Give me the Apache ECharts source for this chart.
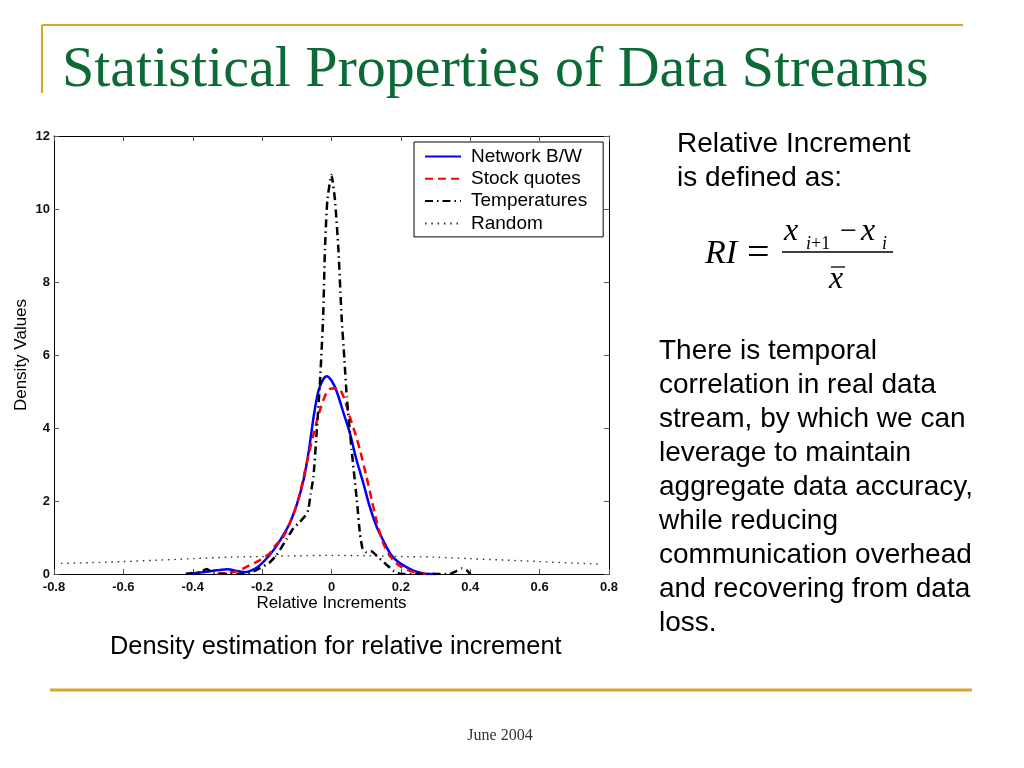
<!DOCTYPE html>
<html>
<head>
<meta charset="utf-8">
<script src="https://cdn.jsdelivr.net/npm/echarts/dist/echarts.min.js"></script>
<style>
html,body{margin:0;padding:0;background:#fff;}
#c{width:1024px;height:768px;}
</style>
</head>
<body>
<div id="c"></div>
<script>
// ---- data ----
const seriesNames = ['Network B/W', 'Stock quotes', 'Temperatures', 'Random'];
const xTicks = [-0.8, -0.6, -0.4, -0.2, 0, 0.2, 0.4, 0.6, 0.8];
const yTicks = [0, 2, 4, 6, 8, 10, 12];

const networkBW = [
  [-0.42,0.0],[-0.37,0.05],[-0.33,0.10],[-0.30,0.13],[-0.27,0.08],[-0.25,0.05],
  [-0.22,0.15],[-0.20,0.30],[-0.18,0.50],[-0.16,0.75],[-0.14,1.05],[-0.12,1.40],
  [-0.10,1.90],[-0.08,2.60],[-0.065,3.40],[-0.05,4.40],[-0.035,5.10],[-0.014,5.42],
  [0.0,5.30],[0.015,5.00],[0.035,4.40],[0.053,3.86],[0.07,3.20],[0.092,2.48],
  [0.11,1.85],[0.13,1.30],[0.15,0.90],[0.17,0.55],[0.19,0.35],[0.217,0.18],
  [0.24,0.08],[0.27,0.01],[0.30,0.0]
];
const stockQuotes = [
  [-0.33,0.0],[-0.30,0.03],[-0.27,0.08],[-0.24,0.22],[-0.21,0.36],[-0.18,0.55],
  [-0.16,0.80],[-0.14,1.00],[-0.12,1.40],[-0.096,2.03],[-0.07,3.10],[-0.05,3.90],
  [-0.033,4.50],[-0.015,4.95],[0.0,5.08],[0.02,5.08],[0.035,4.85],[0.053,4.30],
  [0.07,3.80],[0.082,3.40],[0.10,2.70],[0.116,2.03],[0.13,1.45],[0.149,0.85],
  [0.165,0.55],[0.18,0.36],[0.20,0.20],[0.235,0.06],[0.27,0.0]
];
const temperatures = [
  [-0.42,0.0],[-0.38,0.05],[-0.36,0.14],[-0.34,0.03],[-0.30,0.0],[-0.26,0.0],
  [-0.23,0.05],[-0.206,0.16],[-0.18,0.30],[-0.158,0.52],[-0.13,0.95],[-0.11,1.25],
  [-0.091,1.43],[-0.075,1.60],[-0.067,1.75],[-0.06,2.20],[-0.052,2.67],[-0.043,3.85],
  [-0.033,5.30],[-0.024,7.05],[-0.019,8.88],[-0.012,10.25],[0.0,10.93],[0.01,10.25],
  [0.02,8.88],[0.029,7.05],[0.037,5.90],[0.044,4.86],[0.058,3.40],[0.073,2.03],
  [0.082,1.10],[0.09,0.68],[0.10,0.60],[0.115,0.62],[0.13,0.50],[0.159,0.25],
  [0.18,0.08],[0.20,0.0],[0.25,0.0],[0.30,0.0],[0.34,0.0],[0.36,0.08],
  [0.375,0.15],[0.39,0.10],[0.40,0.0]
];
const randomData = [
  [-0.78,0.29],[-0.70,0.31],[-0.60,0.34],[-0.50,0.38],[-0.40,0.42],[-0.30,0.46],
  [-0.20,0.48],[-0.10,0.50],[0.0,0.51],[0.10,0.50],[0.20,0.48],[0.30,0.46],
  [0.40,0.42],[0.50,0.38],[0.60,0.34],[0.70,0.30],[0.78,0.27]
];

const chart = echarts.init(document.getElementById('c'), null, {renderer:'canvas'});
const fmtX = v => Math.abs(v) < 1e-9 ? '0' : (Math.round(v*10)/10).toFixed(1);
const gold = '#d6a72c';
const sans = 'Liberation Sans, Arial, sans-serif';
const serif = 'Liberation Serif, Times New Roman, serif';

const baseX = {
  type:'value', min:xTicks[0], max:xTicks[xTicks.length-1], interval:0.2,
  splitLine:{show:false},
  axisLine:{show:true, onZero:false, lineStyle:{color:'#000', width:1}},
  axisTick:{show:true, inside:true, length:5, lineStyle:{color:'#555'}},
};
const baseY = {
  type:'value', min:yTicks[0], max:yTicks[yTicks.length-1], interval:2,
  splitLine:{show:false},
  axisLine:{show:true, onZero:false, lineStyle:{color:'#000', width:1}},
  axisTick:{show:true, inside:true, length:5, lineStyle:{color:'#555'}},
};

const option = {
  animation:false,
  backgroundColor:'#fff',
  grid:{left:54, top:136, right:415, bottom:194, show:false},
  legend:{
    orient:'vertical', left:414, top:142,
    padding:[5,16,4,10], itemGap:3.3, itemWidth:36, itemHeight:14,
    backgroundColor:'#fff', borderColor:'#000', borderWidth:1,
    itemStyle:{opacity:0},
    textStyle:{fontFamily:sans, fontSize:19, color:'#000', padding:[0,0,0,5]},
    data:seriesNames
  },
  xAxis:[
    Object.assign({}, baseX, {
      position:'bottom',
      axisLabel:{show:true, margin:7, fontFamily:sans, fontSize:13, fontWeight:'bold', color:'#111', formatter:fmtX},
      name:'Relative Increments', nameLocation:'middle', nameGap:21, nameMoveOverlap:false,
      nameTextStyle:{fontFamily:sans, fontSize:17, color:'#000'}
    }),
    Object.assign({}, baseX, {position:'top', axisLabel:{show:false}})
  ],
  yAxis:[
    Object.assign({}, baseY, {
      position:'left',
      axisLabel:{show:true, margin:4, fontFamily:sans, fontSize:13, fontWeight:'bold', color:'#111'},
      name:'Density Values', nameLocation:'middle', nameGap:24, nameMoveOverlap:false,
      nameTextStyle:{fontFamily:sans, fontSize:17, color:'#000'}
    }),
    Object.assign({}, baseY, {position:'right', axisLabel:{show:false}})
  ],
  series:[
    {name:seriesNames[0], type:'line', data:networkBW, smooth:0.3, symbol:'none', z:2,
     lineStyle:{color:'#0000ff', width:2.5, type:'solid'}, itemStyle:{color:'#0000ff'}},
    {name:seriesNames[1], type:'line', data:stockQuotes, smooth:0.3, symbol:'none', z:3,
     lineStyle:{color:'#ff0000', width:2.5, type:[8,5]}, itemStyle:{color:'#ff0000'}},
    {name:seriesNames[2], type:'line', data:temperatures, smooth:0.15, symbol:'none', z:4,
     lineStyle:{color:'#000', width:2.5, type:[8,4,1.5,4]}, itemStyle:{color:'#000'}},
    {name:seriesNames[3], type:'line', data:randomData, smooth:0.3, symbol:'none', z:5,
     lineStyle:{color:'#333', width:1.4, type:[1.5,4.8]}, itemStyle:{color:'#333'}}
  ],
  graphic:[
    // decorative slide lines
    {type:'line', shape:{x1:42,y1:25,x2:963,y2:25}, style:{stroke:gold, lineWidth:2}},
    {type:'line', shape:{x1:42,y1:25,x2:42,y2:93}, style:{stroke:gold, lineWidth:2}},
    {type:'line', shape:{x1:50,y1:690,x2:972,y2:690}, style:{stroke:gold, lineWidth:3}},
    // title
    {type:'text', x:62, y:71, style:{text:'Statistical Properties of Data Streams',
      font:'58px '+serif, fill:'#0c6a37', textAlign:'left', textVerticalAlign:'middle'}},
    // right text
    {type:'text', x:677, y:127, style:{text:'Relative Increment\nis defined as:',
      font:'28px '+sans, fill:'#000', lineHeight:34, textAlign:'left', textVerticalAlign:'top'}},
    // formula
    {type:'text', x:705, y:254, style:{text:'RI', font:'italic 34px '+serif, fill:'#000', textVerticalAlign:'middle'}},
    {type:'text', x:747, y:254, style:{text:'=', font:'40px '+serif, fill:'#000', textVerticalAlign:'middle'}},
    {type:'line', shape:{x1:782,y1:252,x2:893,y2:252}, style:{stroke:'#000', lineWidth:1.3}},
    {type:'text', x:784, y:232, style:{text:'x', font:'italic 32px '+serif, fill:'#000', textVerticalAlign:'middle'}},
    {type:'text', x:806, y:244, style:{text:'{it|i}+1', font:'18px '+serif, fill:'#000', textVerticalAlign:'middle',
      rich:{it:{fontStyle:'italic', fontSize:18, fontFamily:serif}}}},
    {type:'text', x:840, y:232, style:{text:'\u2212', font:'30px '+serif, fill:'#000', textVerticalAlign:'middle'}},
    {type:'text', x:861, y:232, style:{text:'x', font:'italic 32px '+serif, fill:'#000', textVerticalAlign:'middle'}},
    {type:'text', x:882, y:244, style:{text:'i', font:'italic 18px '+serif, fill:'#000', textVerticalAlign:'middle'}},
    {type:'text', x:829, y:280, style:{text:'x', font:'italic 32px '+serif, fill:'#000', textVerticalAlign:'middle'}},
    {type:'line', shape:{x1:831,y1:267,x2:845,y2:267}, style:{stroke:'#000', lineWidth:1.3}},
    // paragraph
    {type:'text', x:659, y:334, style:{text:'There is temporal\ncorrelation in real data\nstream, by which we can\nleverage to maintain\naggregate data accuracy,\nwhile reducing\ncommunication overhead\nand recovering from data\nloss.',
      font:'28px '+sans, fill:'#000', lineHeight:34, textAlign:'left', textVerticalAlign:'top'}},
    // caption
    {type:'text', x:110, y:647, style:{text:'Density estimation for relative increment',
      font:'25.4px '+sans, fill:'#000', textAlign:'left', textVerticalAlign:'middle'}},
    // footer
    {type:'text', x:500, y:736, style:{text:'June 2004', font:'16px '+serif, fill:'#333',
      textAlign:'center', textVerticalAlign:'middle'}}
  ]
};
chart.setOption(option);
</script>
</body>
</html>
